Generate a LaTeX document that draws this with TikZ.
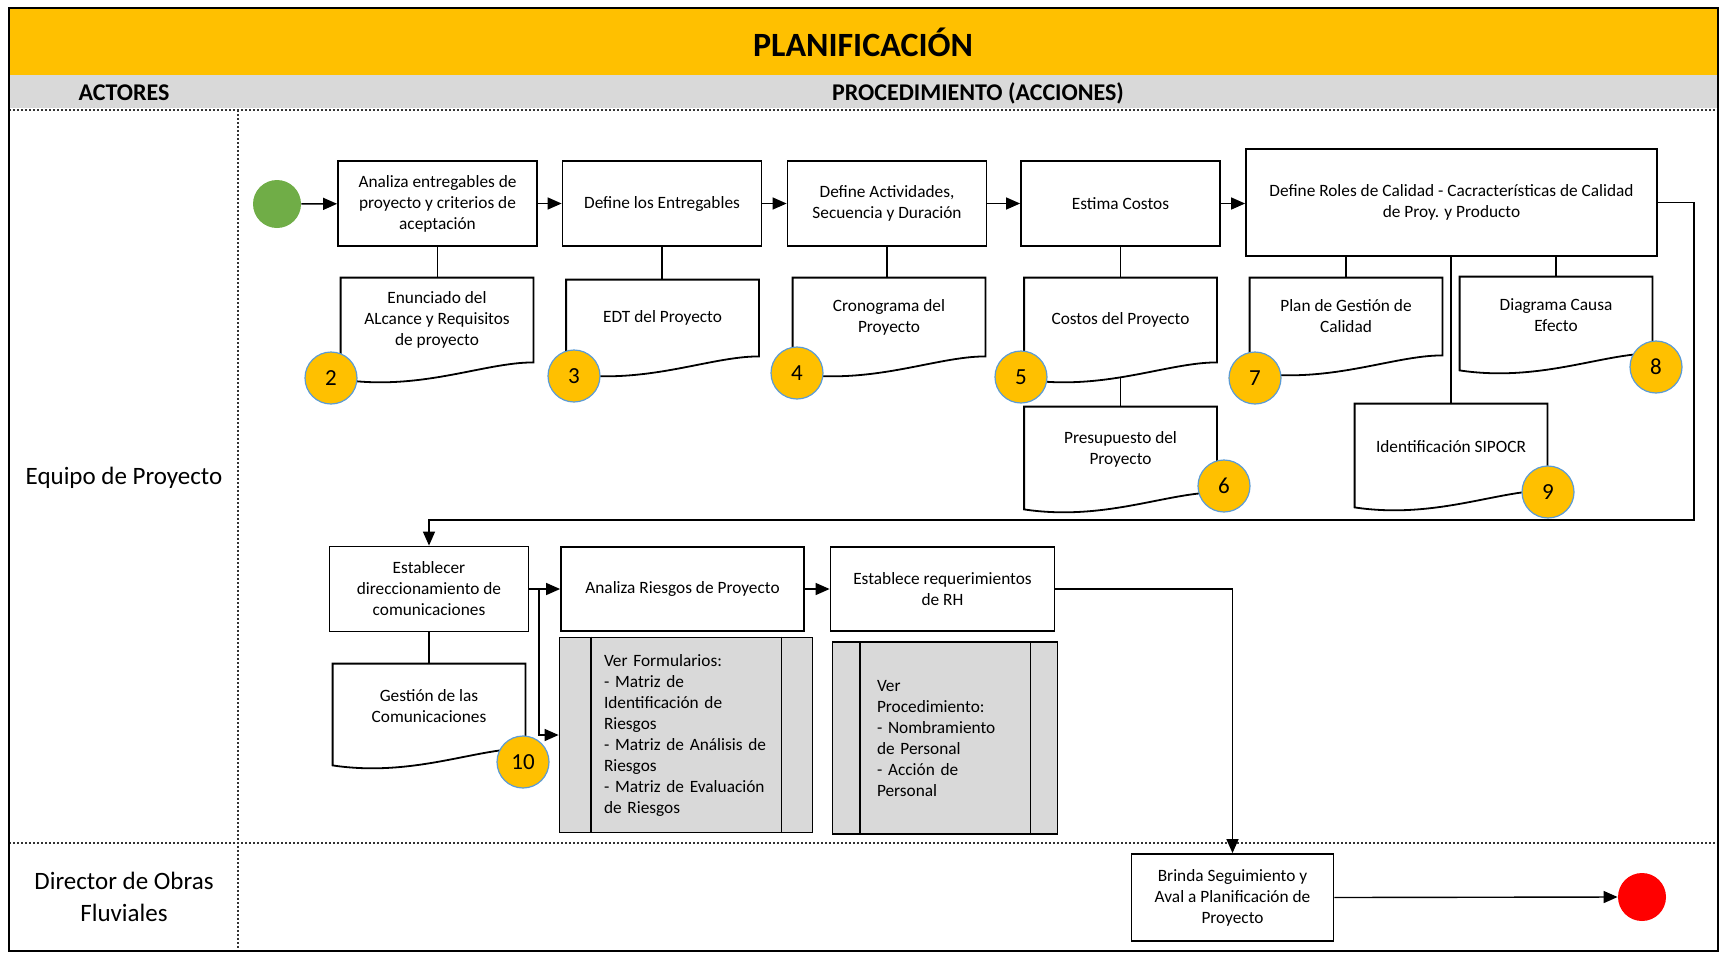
\documentclass[tikz,border=0pt]{standalone}
\usepackage{fontspec}
\setmainfont{Carlito}
\usetikzlibrary{arrows.meta,calc}
\definecolor{amarillo}{HTML}{FFC000}
\definecolor{grisclaro}{HTML}{D9D9D9}
\definecolor{verdeini}{HTML}{70AD47}
\definecolor{azulborde}{HTML}{5B9BD5}
\newcommand{\textocaja}{\fontsize{8.65}{10.5}\selectfont}

\begin{document}
\begin{tikzpicture}[x=0.5pt, y=-0.5pt,
    caja/.style={rectangle, draw, line width=0.9pt, align=center, font=\textocaja, inner sep=1pt},
    paso/.style={caja, minimum width=99.5pt, minimum height=42.5pt},
    docu/.style={rectangle, align=center, font=\textocaja, minimum width=96pt, inner sep=1pt},
    numero/.style={circle, draw=azulborde, line width=0.6pt, fill=amarillo, minimum size=26pt, inner sep=0pt, font=\fontsize{11.5}{12}\selectfont},
    proc/.style={rectangle, draw, line width=0.9pt, fill=grisclaro, align=left, font=\textocaja},
    flujo/.style={draw, line width=0.7pt, -{Triangle[length=7pt,width=6pt]}},
    enlace/.style={draw, line width=0.7pt},
    carril/.style={draw=black!80, line width=0.6pt, dash pattern=on 1pt off 1pt}]
    \useasboundingbox (0,0) rectangle (1723,954);

    % cabecera
    \fill[amarillo] (9,8) rectangle (1718,75);
    \fill[grisclaro] (9,75) rectangle (1718,108);
    \node[font=\fontsize{17}{20}\selectfont\bfseries] (titulo) at (863,42) {PLANIFICACIÓN};
    \node[font=\fontsize{12}{14}\selectfont\bfseries] (actores) at (124,93) {ACTORES};
    \node[font=\fontsize{12}{14}\selectfont\bfseries] (proced) at (978,93) {PROCEDIMIENTO (ACCIONES)};

    % carriles
    \draw[carril] (9,110) -- (1718,110);
    \draw[carril] (9,843) -- (1718,843);
    \draw[carril] (238,110) -- (238,951);
    \draw[line width=1.2pt] (9,8) rectangle (1718,951);
    \node[font=\fontsize{12.5}{16}\selectfont] (equipo) at (124,478) {Equipo de Proyecto};
    \node[font=\fontsize{12.5}{16}\selectfont, align=center] (director) at (124,897) {Director de Obras\\Fluviales};

    % actividades
    \node[circle, fill=verdeini, minimum size=24pt] (ini) at (277,204) {};
    \node[paso] (A) at (437.5,203.5) {Analiza entregables de\\proyecto y criterios de\\aceptación};
    \node[paso] (B) at (662,203.5) {Define los Entregables};
    \node[paso] (C) at (887,203.5) {Define Actividades,\\Secuencia y Duración};
    \node[paso] (D) at (1120.5,203.5) {Estima Costos};
    \node[caja, minimum width=205.5pt, minimum height=53.5pt] (E) at (1451.5,202.5) {Define Roles de Calidad - Cacracterísticas de Calidad\\de Proy. y Producto};
    \node[paso] (F) at (429,589) {Establecer\\direccionamiento de\\comunicaciones};
    \node[caja, minimum width=121.5pt, minimum height=42pt] (G) at (682.5,589) {Analiza Riesgos de Proyecto};
    \node[caja, minimum width=112pt, minimum height=42pt] (H) at (942.5,589) {Establece requerimientos\\de RH};
    \node[caja, minimum width=101pt, minimum height=43.5pt] (I) at (1232.5,897.5) {Brinda Seguimiento y\\Aval a Planificación de\\Proyecto};
    \node[circle, fill=red, minimum size=24pt] (fin) at (1642,897) {};

    % formularios y procedimientos
    \node[proc, minimum width=126.5pt, minimum height=97.5pt, text width=82pt] (G2) at (686,735) {Ver Formularios:\\- Matriz de\\Identificación de\\Riesgos\\- Matriz de Análisis de\\Riesgos\\- Matriz de Evaluación\\de Riesgos};
    \draw[line width=0.9pt] ([xshift=16pt]G2.north west) -- ([xshift=16pt]G2.south west)
        ([xshift=-16pt]G2.north east) -- ([xshift=-16pt]G2.south east);
    \node[proc, minimum width=112.5pt, minimum height=96pt, text width=68pt] (H2) at (945,738) {Ver\\Procedimiento:\\- Nombramiento\\de Personal\\- Acción de\\Personal};
    \draw[line width=0.9pt] ([xshift=14pt]H2.north west) -- ([xshift=14pt]H2.south west)
        ([xshift=-14pt]H2.north east) -- ([xshift=-14pt]H2.south east);

    % documentos
    \node[docu, minimum height=42pt] (d2) at (437,320) {Enunciado del\\ALcance y Requisitos\\de proyecto};
    \node[docu, minimum height=38pt] (d3) at (662.5,318) {EDT del Proyecto};
    \node[docu, minimum height=39pt] (d4) at (889,317) {Cronograma del\\Proyecto};
    \node[docu, minimum height=42pt] (d5) at (1120.5,320) {Costos del Proyecto};
    \node[docu, minimum height=42.5pt] (d6) at (1120.5,449.5) {Presupuesto del\\Proyecto};
    \node[docu, minimum height=38.5pt] (d7) at (1346,316.5) {Plan de Gestión de\\Calidad};
    \node[docu, minimum height=38pt] (d8) at (1556,315) {Diagrama Causa\\Efecto};
    \node[docu, minimum height=43pt] (d9) at (1451,447) {Identificación SIPOCR};
    \node[docu, minimum height=42pt] (d10) at (429,706) {Gestión de las\\Comunicaciones};
    \foreach \d in {d2,d3,d4,d5,d6,d7,d8,d9,d10}
        \draw[line width=0.9pt] (\d.north west) -- (\d.north east) -- (\d.south east)
            .. controls +(-50,0) and +(80,12) .. ([yshift=-8.5pt]\d.south west) -- cycle;

    % conectores
    \draw[flujo] (ini) -- (A);
    \draw[flujo] (A) -- (B);
    \draw[flujo] (B) -- (C);
    \draw[flujo] (C) -- (D);
    \draw[flujo] (D.east) -- (E.west |- D.east);
    \draw[enlace] (A.south) -- (A.south |- d2.north);
    \draw[enlace] (B.south) -- (B.south |- d3.north);
    \draw[enlace] (C.south) -- (C.south |- d4.north);
    \draw[enlace] (D.south) -- (D.south |- d5.north);
    \coordinate (w5) at ([yshift=-7.5pt]d5.south);
    \draw[enlace] (w5) -- (d6.north);
    \draw[enlace] (E.south -| d7.north) -- (d7.north);
    \draw[enlace] (E.south -| d9.north) -- (d9.north);
    \draw[enlace] (E.south -| d8.north) -- (d8.north);
    \coordinate (lazo) at (1694,520);
    \draw[flujo] (E.east) -| (lazo) -| (F.north);
    \draw[enlace] (F.south) -- (F.south |- d10.north);
    \draw[flujo] (F) -- (G);
    \coordinate (rama) at (539,589);
    \draw[flujo] (rama) |- (G2.west);
    \draw[flujo] (G) -- (H);
    \draw[flujo] (H.east) -| (I.north);
    \draw[flujo] (I.east) -- (fin.west);

    % numeros
    \node[numero] (n2) at (331,378) {2};
    \node[numero] (n3) at (574,376) {3};
    \node[numero] (n4) at (797,373) {4};
    \node[numero] (n5) at (1021,377) {5};
    \node[numero] (n6) at (1224,486) {6};
    \node[numero] (n7) at (1255,378) {7};
    \node[numero] (n8) at (1656,367) {8};
    \node[numero] (n9) at (1548,492) {9};
    \node[numero] (n10) at (523,762) {10};
\end{tikzpicture}
\end{document}
